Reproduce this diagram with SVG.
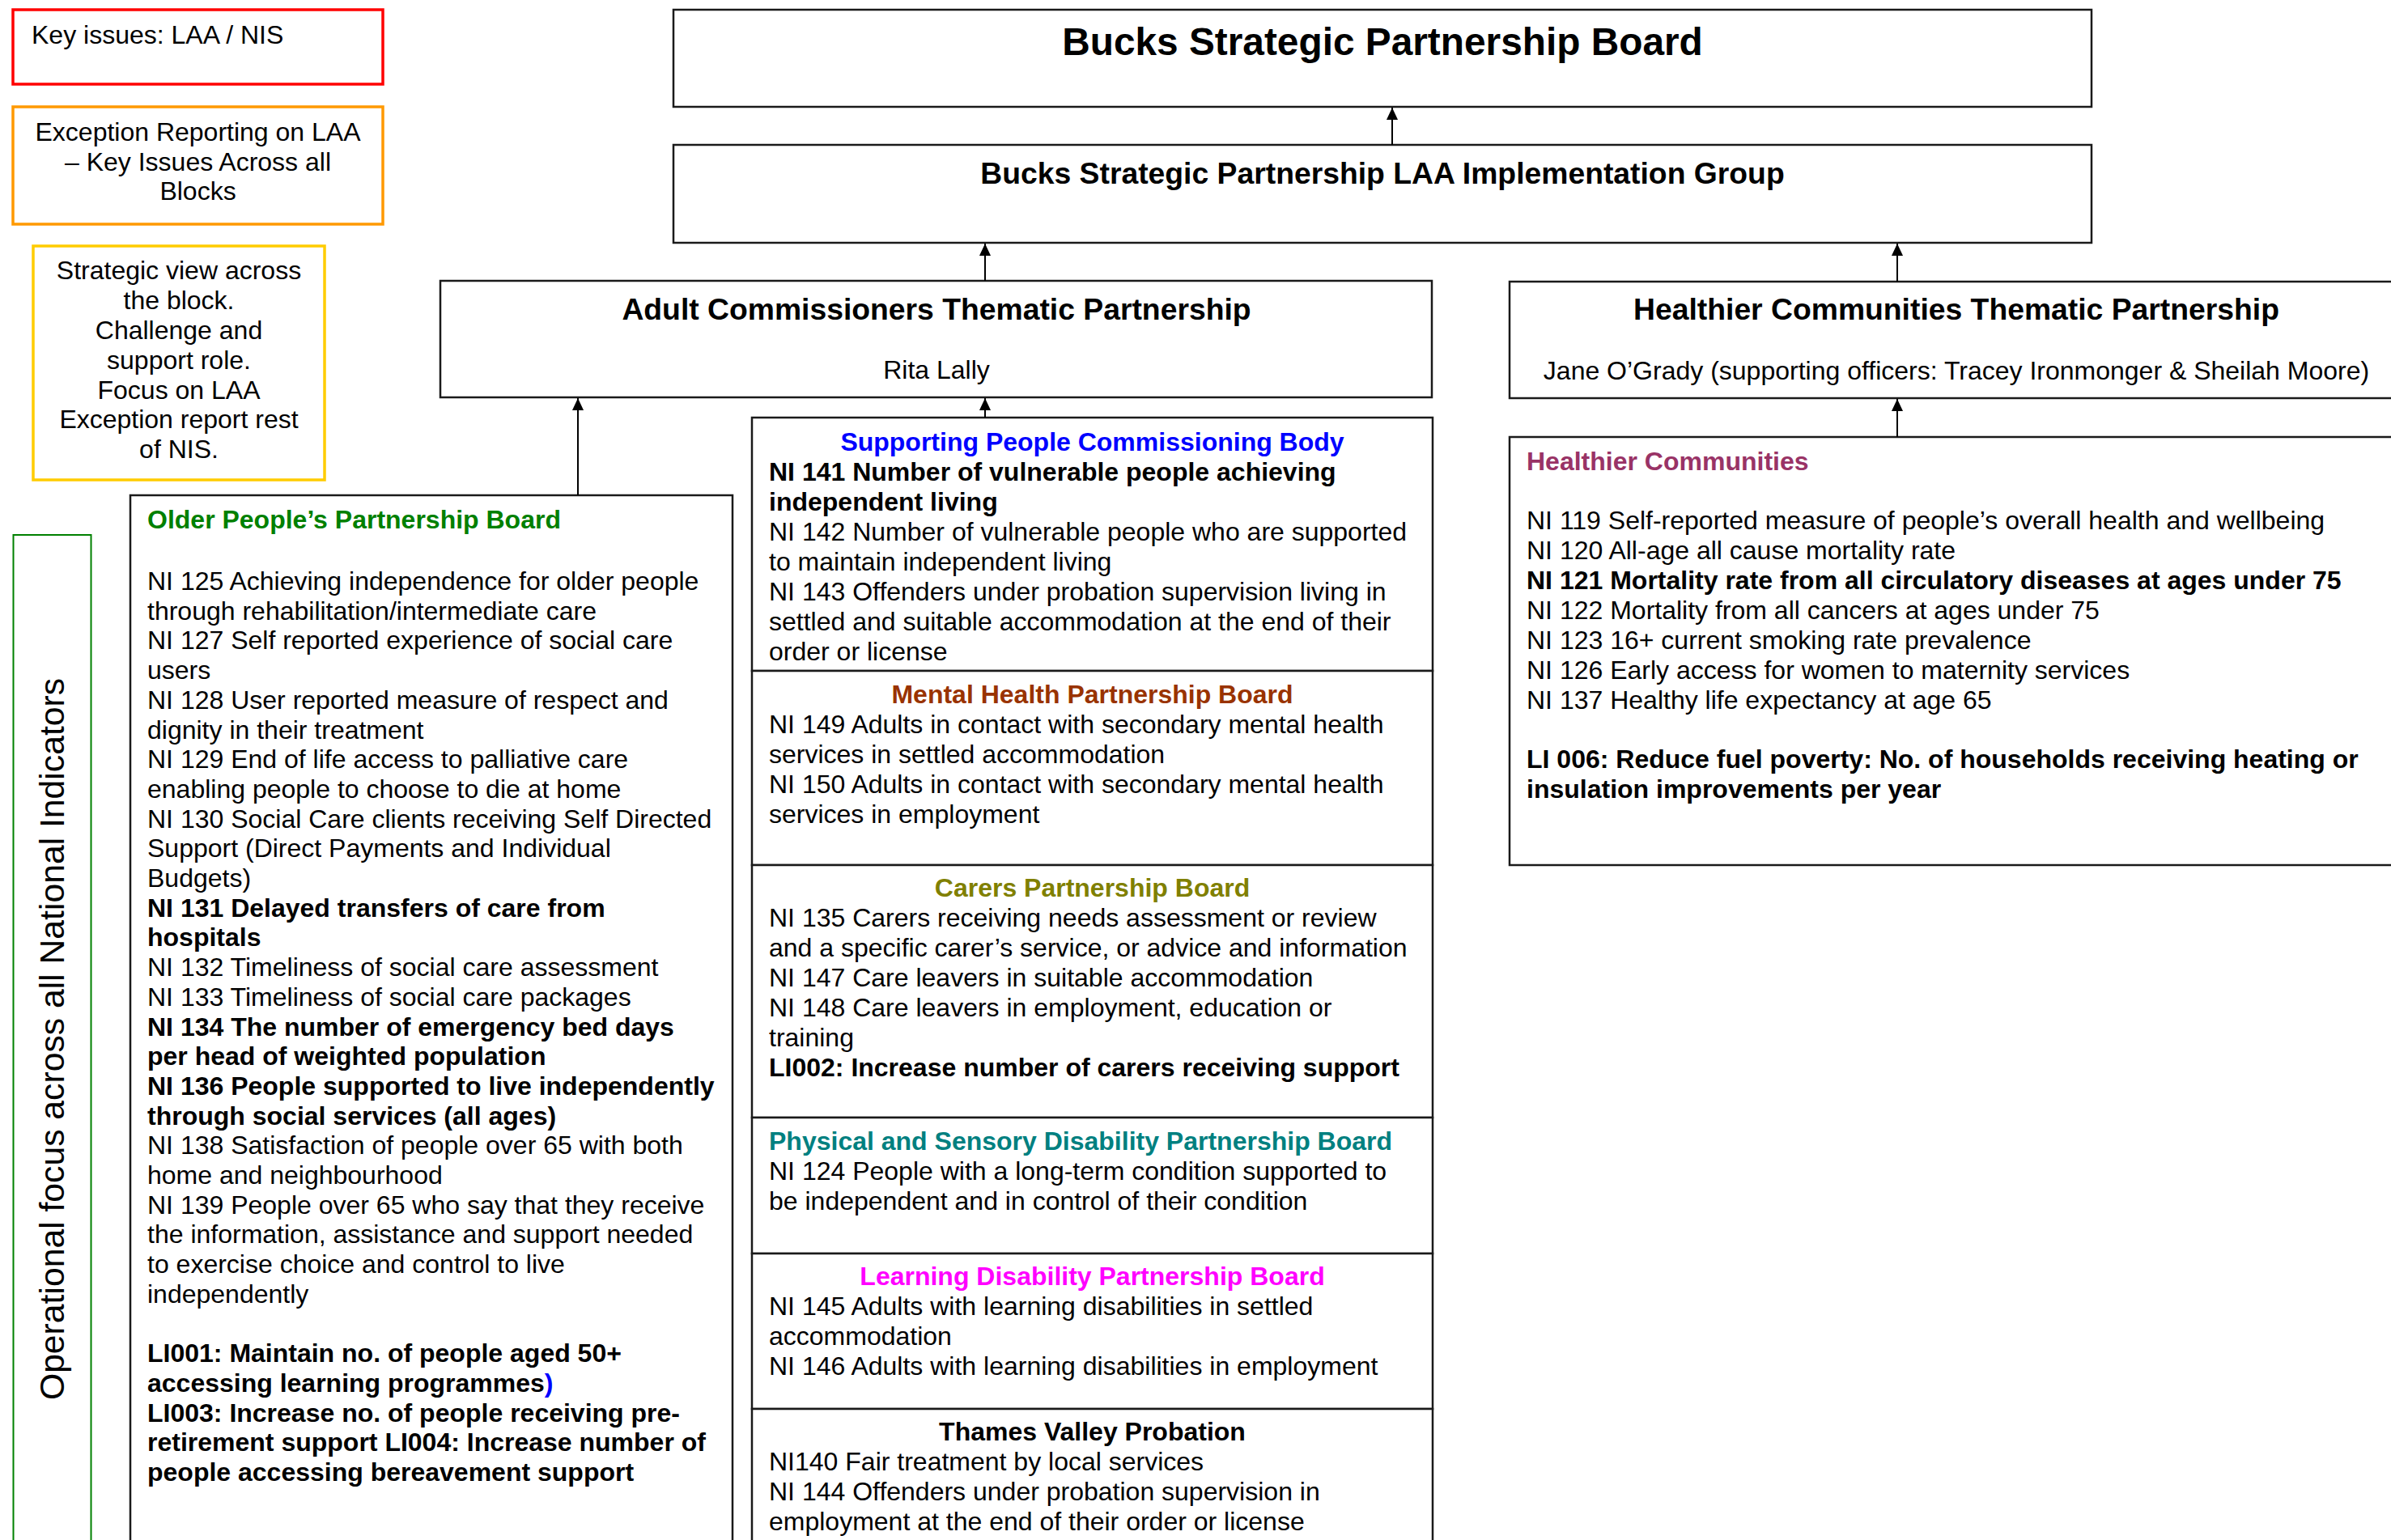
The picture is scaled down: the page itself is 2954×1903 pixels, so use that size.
<svg xmlns="http://www.w3.org/2000/svg" width="2954" height="1903" viewBox="0 0 2954 1903">
<defs>
<style>
text{font-family:"Liberation Sans",Arial,sans-serif;font-size:32px;fill:#000}
.b{font-weight:bold}
.t{font-weight:bold;font-size:37.3px;text-anchor:middle}
.c{text-anchor:middle}
.box{fill:#fff;stroke:#1a1a1a;stroke-width:2.5}
.conn{stroke:#000;stroke-width:2;fill:none;marker-end:url(#arr)}
</style>
<marker id="arr" viewBox="0 0 15 14" refX="15" refY="7" markerWidth="15" markerHeight="14" markerUnits="userSpaceOnUse" orient="auto">
<path d="M0,0 L15,7 L0,14 z" fill="#000"/>
</marker>
</defs>
<rect width="2954" height="1903" fill="#fff"/>

<g id="key-issues">
<rect x="16" y="12" width="457" height="92" fill="#fff" stroke="#ff0000" stroke-width="3.5"/>
<text x="39" y="54">Key issues: LAA / NIS</text>
</g>
<g id="exception-reporting">
<rect x="16" y="132" width="457" height="145" fill="#fff" stroke="#ff9900" stroke-width="3.5"/>
<text class="c" x="244.5" y="174">Exception Reporting on LAA</text>
<text class="c" x="244.5" y="210.5">– Key Issues Across all</text>
<text class="c" x="244.5" y="247">Blocks</text>
</g>
<g id="strategic-view">
<rect x="41" y="304" width="360" height="289" fill="#fff" stroke="#ffcc00" stroke-width="3.5"/>
<text class="c" x="221" y="345">Strategic view across</text>
<text class="c" x="221" y="382">the block.</text>
<text class="c" x="221" y="418.5">Challenge and</text>
<text class="c" x="221" y="455.5">support role.</text>
<text class="c" x="221" y="492.5">Focus on LAA</text>
<text class="c" x="221" y="529">Exception report rest</text>
<text class="c" x="221" y="566">of NIS.</text>
</g>
<g id="operational-focus">
<rect x="16.5" y="661" width="96" height="1260" fill="#fff" stroke="#008000" stroke-width="2"/>
<text class="c" transform="translate(79,1284) rotate(-90)" style="font-size:42.7px">Operational focus across all National Indicators</text>
</g>

<g id="board">
<rect class="box" x="832" y="12" width="1752" height="120"/>
<text class="t" x="1708" y="68" style="font-size:47.8px">Bucks Strategic Partnership Board</text>
</g>
<g id="laa-group">
<rect class="box" x="832" y="179" width="1752" height="121"/>
<text class="t" x="1708" y="227">Bucks Strategic Partnership LAA Implementation Group</text>
</g>
<g id="adult-commissioners">
<rect class="box" x="544" y="347" width="1225" height="144"/>
<text class="t" x="1157" y="395">Adult Commissioners Thematic Partnership</text>
<text class="c" x="1157" y="468">Rita Lally</text>
</g>
<g id="healthier-thematic">
<rect class="box" x="1865" y="348" width="1104" height="144"/>
<text class="t" x="2417" y="395">Healthier Communities Thematic Partnership</text>
<text class="c" x="2417" y="469">Jane O’Grady (supporting officers: Tracey Ironmonger &amp; Sheilah Moore)</text>
</g>

<g id="older-people">
<rect class="box" x="161" y="612" width="744" height="1310"/>
<text class="b" x="182" y="653" style="fill:#008000">Older People’s Partnership Board</text>
<text x="182" y="729">NI 125 Achieving independence for older people</text>
<text x="182" y="765.7">through rehabilitation/intermediate care</text>
<text x="182" y="802.4">NI 127 Self reported experience of social care</text>
<text x="182" y="839.1">users</text>
<text x="182" y="875.8">NI 128 User reported measure of respect and</text>
<text x="182" y="912.5">dignity in their treatment</text>
<text x="182" y="949.2">NI 129 End of life access to palliative care</text>
<text x="182" y="985.9">enabling people to choose to die at home</text>
<text x="182" y="1022.6">NI 130 Social Care clients receiving Self Directed</text>
<text x="182" y="1059.3">Support (Direct Payments and Individual</text>
<text x="182" y="1096">Budgets)</text>
<text class="b" x="182" y="1132.7">NI 131 Delayed transfers of care from</text>
<text class="b" x="182" y="1169.4">hospitals</text>
<text x="182" y="1206.1">NI 132 Timeliness of social care assessment</text>
<text x="182" y="1242.8">NI 133 Timeliness of social care packages</text>
<text class="b" x="182" y="1279.5">NI 134 The number of emergency bed days</text>
<text class="b" x="182" y="1316.2">per head of weighted population</text>
<text class="b" x="182" y="1352.9">NI 136 People supported to live independently</text>
<text class="b" x="182" y="1389.6">through social services (all ages)</text>
<text x="182" y="1426.3">NI 138 Satisfaction of people over 65 with both</text>
<text x="182" y="1463">home and neighbourhood</text>
<text x="182" y="1499.7">NI 139 People over 65 who say that they receive</text>
<text x="182" y="1536.4">the information, assistance and support needed</text>
<text x="182" y="1573.1">to exercise choice and control to live</text>
<text x="182" y="1609.8">independently</text>
<text class="b" x="182" y="1683.2">LI001: Maintain no. of people aged 50+</text>
<text class="b" x="182" y="1719.9">accessing learning programmes<tspan style="fill:#0000ff">)</tspan></text>
<text class="b" x="182" y="1756.6">LI003: Increase no. of people receiving pre-</text>
<text class="b" x="182" y="1793.3">retirement support LI004: Increase number of</text>
<text class="b" x="182" y="1830">people accessing bereavement support</text>
</g>

<g id="supporting-people">
<rect class="box" x="929" y="516" width="841" height="313"/>
<text class="b c" x="1349.5" y="557" style="fill:#0000ff">Supporting People Commissioning Body</text>
<text class="b" x="950" y="594">NI 141 Number of vulnerable people achieving</text>
<text class="b" x="950" y="631">independent living</text>
<text x="950" y="667.5">NI 142 Number of vulnerable people who are supported</text>
<text x="950" y="704.5">to maintain independent living</text>
<text x="950" y="741.5">NI 143 Offenders under probation supervision living in</text>
<text x="950" y="778.5">settled and suitable accommodation at the end of their</text>
<text x="950" y="815.5">order or license</text>
</g>
<g id="mental-health">
<rect class="box" x="929" y="829" width="841" height="240"/>
<text class="b c" x="1349.5" y="868.5" style="fill:#993300">Mental Health Partnership Board</text>
<text x="950" y="905.5">NI 149 Adults in contact with secondary mental health</text>
<text x="950" y="942.5">services in settled accommodation</text>
<text x="950" y="979.5">NI 150 Adults in contact with secondary mental health</text>
<text x="950" y="1016.5">services in employment</text>
</g>
<g id="carers">
<rect class="box" x="929" y="1069" width="841" height="312"/>
<text class="b c" x="1349.5" y="1108" style="fill:#808000">Carers Partnership Board</text>
<text x="950" y="1145">NI 135 Carers receiving needs assessment or review</text>
<text x="950" y="1182">and a specific carer’s service, or advice and information</text>
<text x="950" y="1218.5">NI 147 Care leavers in suitable accommodation</text>
<text x="950" y="1255.5">NI 148 Care leavers in employment, education or</text>
<text x="950" y="1292.5">training</text>
<text class="b" x="950" y="1329.5">LI002: Increase number of carers receiving support</text>
</g>
<g id="physical-sensory">
<rect class="box" x="929" y="1381" width="841" height="168"/>
<text class="b" x="950" y="1421" style="fill:#008080">Physical and Sensory Disability Partnership Board</text>
<text x="950" y="1458">NI 124 People with a long-term condition supported to</text>
<text x="950" y="1495">be independent and in control of their condition</text>
</g>
<g id="learning-disability">
<rect class="box" x="929" y="1549" width="841" height="192"/>
<text class="b c" x="1349.5" y="1588" style="fill:#ff00ff">Learning Disability Partnership Board</text>
<text x="950" y="1625">NI 145 Adults with learning disabilities in settled</text>
<text x="950" y="1662">accommodation</text>
<text x="950" y="1699">NI 146 Adults with learning disabilities in employment</text>
</g>
<g id="thames-valley">
<rect class="box" x="929" y="1741" width="841" height="180"/>
<text class="b c" x="1349.5" y="1780">Thames Valley Probation</text>
<text x="950" y="1817">NI140 Fair treatment by local services</text>
<text x="950" y="1854">NI 144 Offenders under probation supervision in</text>
<text x="950" y="1891">employment at the end of their order or license</text>
</g>

<g id="healthier-communities">
<rect class="box" x="1865" y="540" width="1104" height="529"/>
<text class="b" x="1886" y="581" style="fill:#993366">Healthier Communities</text>
<text x="1886" y="654">NI 119 Self-reported measure of people’s overall health and wellbeing</text>
<text x="1886" y="691">NI 120 All-age all cause mortality rate</text>
<text class="b" x="1886" y="728">NI 121 Mortality rate from all circulatory diseases at ages under 75</text>
<text x="1886" y="765">NI 122 Mortality from all cancers at ages under 75</text>
<text x="1886" y="802">NI 123 16+ current smoking rate prevalence</text>
<text x="1886" y="839">NI 126 Early access for women to maternity services</text>
<text x="1886" y="876">NI 137 Healthy life expectancy at age 65</text>
<text class="b" x="1886" y="949">LI 006: Reduce fuel poverty: No. of households receiving heating or</text>
<text class="b" x="1886" y="986">insulation improvements per year</text>
</g>

<g id="connectors">
<line class="conn" x1="1720" y1="179" x2="1720" y2="133"/>
<line class="conn" x1="1217" y1="347" x2="1217" y2="301"/>
<line class="conn" x1="2344" y1="348" x2="2344" y2="301"/>
<line class="conn" x1="714" y1="612" x2="714" y2="492"/>
<line class="conn" x1="1217" y1="516" x2="1217" y2="492"/>
<line class="conn" x1="2344" y1="540" x2="2344" y2="493"/>
</g>
</svg>
